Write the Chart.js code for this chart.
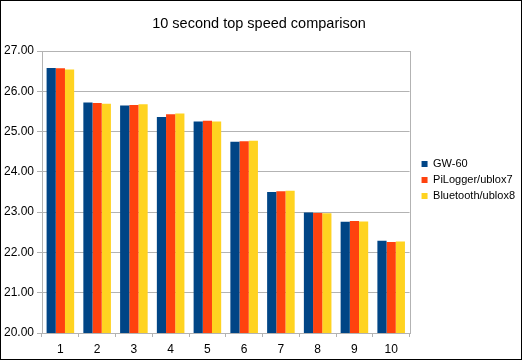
<!DOCTYPE html>
<html>
<head>
<meta charset="utf-8">
<script src="https://cdn.jsdelivr.net/npm/chart.js@4/dist/chart.umd.min.js"></script>
<style>
  html, body { margin: 0; padding: 0; background: #fff; }
  #wrap { width: 522px; height: 360px; }
</style>
</head>
<body>
<div id="wrap"><canvas id="speed-chart" width="522" height="360"></canvas></div>
<script>
// data
const runs = ["1", "2", "3", "4", "5", "6", "7", "8", "9", "10"];
const gw60 = [26.58, 25.72, 25.65, 25.36, 25.25, 24.75, 23.50, 22.99, 22.76, 22.29];
const piLogger = [26.57, 25.71, 25.66, 25.43, 25.27, 24.76, 23.52, 22.98, 22.78, 22.26];
const bluetooth = [26.54, 25.69, 25.68, 25.45, 25.25, 24.77, 23.53, 22.97, 22.77, 22.27];
const yTicks = [20, 21, 22, 23, 24, 25, 26, 27];

const gridGrey = '#b3b3b3';

// white background, grey frame round the plot, black frame round the picture
const framePlugin = {
    id: 'frame',
    afterLayout(chart) {
        // push the legend a bit further right, away from the plot
        chart.legend.left += 7;
        chart.legend.right += 7;
    },
    beforeDraw(chart) {
        const ctx = chart.ctx;
        ctx.save();
        ctx.fillStyle = '#fff';
        ctx.fillRect(0, 0, chart.width, chart.height);
        ctx.restore();
    },
    afterDraw(chart) {
        const ctx = chart.ctx;
        const a = chart.chartArea;
        ctx.save();
        ctx.strokeStyle = gridGrey;
        ctx.lineWidth = 1;
        ctx.strokeRect(Math.round(a.left) + 0.5, Math.round(a.top) + 0.5,
            Math.round(a.right - a.left), Math.round(a.bottom - a.top));
        ctx.strokeStyle = '#000';
        ctx.strokeRect(0.5, 0.5, chart.width - 1, chart.height - 1);
        ctx.restore();
    }
};

const speedCanvas = document.getElementById('speed-chart');

let speedData = {
    labels: runs,
    datasets: [{
        label: 'GW-60',
        data: gw60,
        backgroundColor: '#004586'
    }, {
        label: 'PiLogger/ublox7',
        data: piLogger,
        backgroundColor: '#ff420e'
    }, {
        label: 'Bluetooth/ublox8',
        data: bluetooth,
        backgroundColor: '#ffd320'
    }]
};

let speedOptions = {
    responsive: false,
    animation: false,
    categoryPercentage: 0.75,
    barPercentage: 1,
    layout: {
        padding: { left: 0, right: 4, top: 0, bottom: 0 }
    },
    scales: {
        x: {
            grid: {
                display: true,
                drawOnChartArea: false,
                color: gridGrey,
                tickLength: 4,
                offset: true
            },
            border: { color: gridGrey },
            ticks: {
                color: '#000',
                padding: 5,
                font: { family: 'Liberation Sans', size: 12 }
            },
            afterFit: scale => { scale.height = 27; }
        },
        y: {
            min: 20,
            max: 27,
            afterBuildTicks: scale => {
                scale.ticks = yTicks.map(v => ({ value: v }));
            },
            grid: {
                color: gridGrey,
                tickLength: 5
            },
            border: { color: gridGrey },
            ticks: {
                color: '#000',
                padding: 3,
                font: { family: 'Liberation Sans', size: 12 },
                callback: v => Number(v).toFixed(2)
            },
            afterFit: scale => { scale.width = 42; }
        }
    },
    plugins: {
        title: {
            display: true,
            text: '10 second top speed comparison',
            color: '#000',
            font: { family: 'Liberation Sans', size: 14.5, weight: 'normal' },
            padding: { top: 15.5, bottom: 18.1 }
        },
        legend: {
            position: 'right',
            labels: {
                color: '#000',
                boxWidth: 6,
                boxHeight: 6,
                padding: 5,
                font: { family: 'Liberation Sans', size: 11 }
            }
        },
        tooltip: { enabled: false }
    }
};

let speedChart = new Chart(speedCanvas, {
    type: 'bar',
    data: speedData,
    options: speedOptions,
    plugins: [framePlugin]
});
</script>
</body>
</html>
